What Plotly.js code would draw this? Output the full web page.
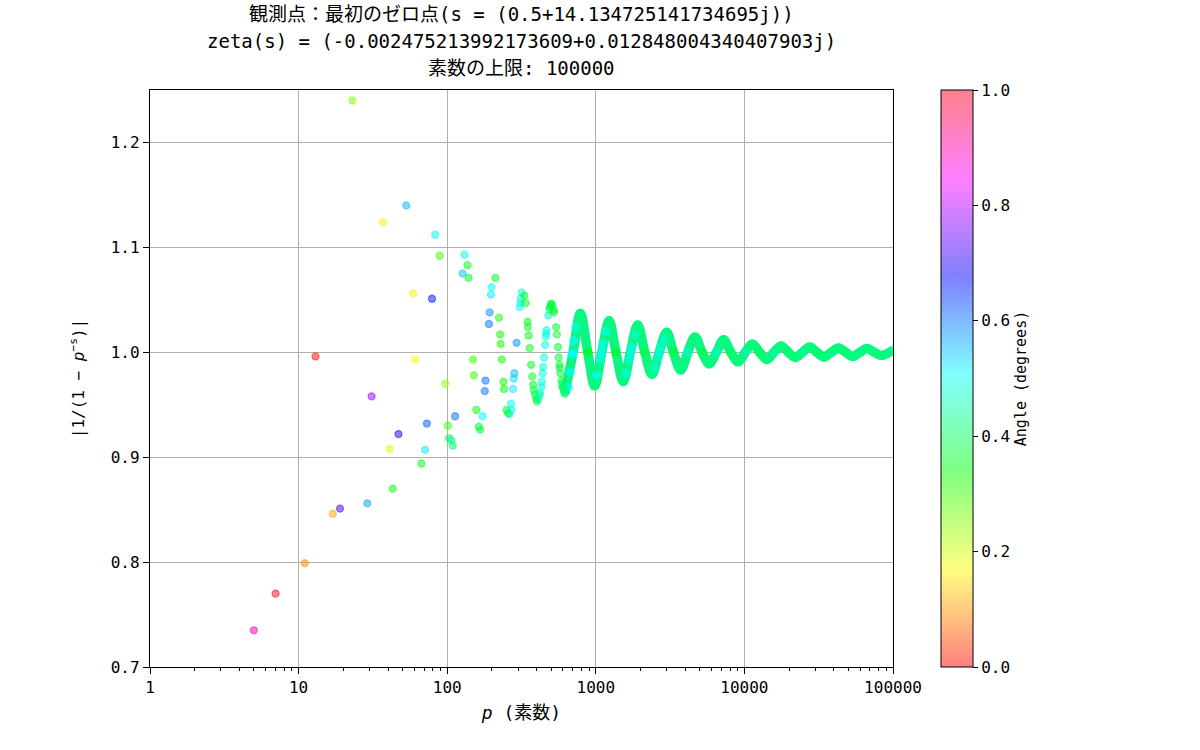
<!DOCTYPE html>
<html>
<head>
<meta charset="utf-8">
<script src="https://cdn.plot.ly/plotly-3.0.1.min.js"></script>
<style>html,body{margin:0;padding:0;background:#fff;}</style>
</head>
<body>
<div id="chart" style="width:1200px;height:750px;"></div>
<script>
// Individually visible primes (x), |1/(1-p^-s)| (y) and colour value (angle)
const primes = [5,7,11,13,17,19,23,29,31,37,41,43,47,53,59,61,67,71,73,79,83,89,97,
  101,103,107,109,113,127,131,137,139,149,151,157,163,167,173,179,181,191,193,197,199,
  211,223,227,229,233,239,241,251,257,263,269,271,277,281,283,293,307,311,313,317,
  331,337,347,349,353,359,367,373,379,383,389,397,401,409,419,421,431,433,439,443,449,
  457,461,463,467,479,487,491,499,503,509,521,523,541,547,557,563,569,571,577,587,593,
  599,601,607,613];
const absVals = [0.735,0.770,0.799,0.996,0.846,0.851,1.240,0.856,0.958,1.124,0.908,0.870,0.922,1.140,1.056,0.993,0.894,0.907,0.932,1.051,1.112,1.092,0.970,
  0.930,0.918,0.916,0.911,0.939,1.075,1.093,1.083,1.071,0.993,0.978,0.945,0.929,0.926,0.939,0.963,0.973,1.027,1.038,1.055,1.062,
  1.071,1.033,1.017,1.008,0.993,0.972,0.965,0.945,0.942,0.941,0.951,0.945,0.965,0.975,0.980,1.009,1.043,1.047,1.051,1.057,
  1.054,1.047,1.029,1.024,1.016,1.004,0.988,0.977,0.969,0.964,0.960,0.956,0.953,0.955,0.959,0.961,0.967,0.972,0.980,0.986,0.995,
  1.007,1.015,1.018,1.021,1.035,1.041,1.043,1.046,1.046,1.044,1.040,1.038,1.024,1.017,1.005,0.995,0.988,0.985,0.980,0.973,0.970,
  0.967,0.966,0.965,0.963];
const angles = [0.90,0.99,0.09,0.01,0.11,0.72,0.25,0.57,0.78,0.16,0.19,0.35,0.68,0.56,0.17,0.17,0.36,0.52,0.62,0.67,0.51,0.30,0.24,
  0.30,0.38,0.45,0.40,0.60,0.55,0.48,0.36,0.36,0.30,0.30,0.34,0.37,0.38,0.50,0.60,0.60,0.60,0.58,0.52,0.50,
  0.36,0.32,0.33,0.33,0.33,0.33,0.34,0.35,0.37,0.42,0.50,0.50,0.52,0.53,0.55,0.58,0.50,0.49,0.50,0.47,
  0.37,0.36,0.35,0.35,0.35,0.36,0.36,0.36,0.36,0.37,0.38,0.38,0.39,0.42,0.46,0.47,0.48,0.48,0.49,0.49,0.49,
  0.48,0.48,0.48,0.48,0.46,0.42,0.40,0.38,0.38,0.37,0.37,0.37,0.37,0.37,0.37,0.37,0.37,0.37,0.38,0.38,0.39,
  0.40,0.40,0.41,0.42];

// Dense band (p > ~600): extrema and crossings
const bandP = [619,701,787,883,983,1097,1229,1367,1531,1709,1913,2137,2389,2671,2999,3331,3727,4159,4651,5197,
  5807,6481,7253,8101,9059,10133,11321,12647,14149,15803,17657,19727,22039,24623,27527,30757,34369,38393,
  42901,47933,53597,59887,66931,74797,83591,99991];
const bandVals = [0.961,0.999,1.037,1.0,0.968,1.0,1.030,1.0,0.972,1.0,1.026,1.0,0.979,1.0,1.019,1.0,0.983,1.0,1.0146,1.0,
  0.989,1.0,1.012,1.0,0.991,1.0,1.008,1.0,0.993,1.0,1.006,1.0,0.995,1.0,1.005,1.0,0.9955,1.0,
  1.004,1.0,0.996,1.0,1.0035,1.0,0.997,1.002];
const bandAngles = [0.42,0.50,0.42,0.36,0.42,0.50,0.42,0.37,0.42,0.49,0.42,0.38,0.42,0.48,0.42,0.38,0.42,0.47,0.42,0.39,
  0.42,0.46,0.42,0.40,0.42,0.45,0.42,0.40,0.42,0.44,0.42,0.41,0.42,0.44,0.42,0.41,0.42,0.43,
  0.42,0.41,0.42,0.43,0.42,0.42,0.42,0.43];

// Rising (cyan) strands of the first band cycles
const riseP = [653,673,691,709,733,1019,1067,1117,1170,1597,1673,1752,1836,2500,2622,2747,2877];
const riseVals = [0.967,0.981,0.998,1.011,1.024,0.978,0.993,1.008,1.020,0.980,0.993,1.005,1.017,0.985,0.995,1.005,1.013];
const riseAngles = [0.50,0.50,0.50,0.50,0.49,0.50,0.50,0.50,0.49,0.49,0.49,0.49,0.48,0.48,0.48,0.48,0.47];

const xTicks = [1,10,100,1000,10000,100000];
const xTickText = ['1','10','100','1000','10000','100000'];
const yTicks = [0.7,0.8,0.9,1.0,1.1,1.2];
const cbTicks = [0,0.2,0.4,0.6,0.8,1.0];
const titleLines = ['観測点：最初のゼロ点(s = (0.5+14.134725141734695j))',
  'zeta(s) = (-0.002475213992173609+0.012848004340407903j)',
  '素数の上限: 100000'];

// matplotlib "hsv" colormap stops
const hsvStops = [[0,255,0,0],[0.15873,255,239,0],[0.174603,247,255,0],[0.333333,8,255,0],[0.349206,0,255,16],
  [0.507937,0,255,255],[0.666667,0,16,255],[0.68254,8,0,255],[0.84127,247,0,255],[0.857143,255,0,239],[1,255,0,24]];
const hsvAlpha = hsvStops.map(s => [s[0], `rgba(${s[1]},${s[2]},${s[3]},0.5)`]);
const hsvSolid = hsvStops.map(s => [s[0], `rgb(${s[1]},${s[2]},${s[3]})`]);

const FONT = '"DejaVu Sans Mono", "Noto Sans CJK JP", monospace';

const traces = [
  {
    x: bandP, y: bandVals, type: 'scatter', mode: 'lines',
    line: {shape: 'spline', smoothing: 1, width: 9.5, color: 'rgb(0,245,125)'},
    opacity: 0.95, hoverinfo: 'skip', showlegend: false
  },
  {
    x: bandP, y: bandVals, type: 'scatter', mode: 'markers',
    marker: {size: 9, color: bandAngles, colorscale: hsvSolid, cmin: 0, cmax: 1, opacity: 0.8,
             line: {width: 0}, showscale: false},
    hoverinfo: 'skip', showlegend: false
  },
  {
    x: riseP, y: riseVals, type: 'scatter', mode: 'markers',
    marker: {size: 9, color: riseAngles, colorscale: hsvSolid, cmin: 0, cmax: 1, opacity: 0.75,
             line: {width: 0}, showscale: false},
    hoverinfo: 'skip', showlegend: false
  },
  {
    x: primes, y: absVals, type: 'scatter', mode: 'markers',
    marker: {
      size: 7, color: angles, colorscale: hsvAlpha, cmin: 0, cmax: 1,
      line: {width: 1.3, color: angles, colorscale: hsvAlpha, cmin: 0, cmax: 1},
      showscale: true,
      colorbar: {
        x: 1.0646, xanchor: 'left', xref: 'paper', xpad: 0,
        y: 0.5, yanchor: 'middle', yref: 'paper', ypad: 0,
        len: 1, lenmode: 'fraction', thickness: 32, thicknessmode: 'pixels',
        outlinewidth: 1, outlinecolor: '#000',
        tickvals: cbTicks, tickformat: '.1f',
        ticks: 'outside', ticklen: 5, tickcolor: '#000',
        tickfont: {family: FONT, size: 16, color: '#000'},
        title: {text: 'Angle (degrees)', side: 'right', font: {family: FONT, size: 15, color: '#000'}}
      }
    },
    showlegend: false
  }
];

const plotTop = 90, plotBottom = 667;
const lineCentersPx = [14, 41, 68];
const annotations = titleLines.map((t, i) => ({
  text: t, xref: 'paper', x: 0.5, xanchor: 'center',
  yref: 'paper', y: (plotBottom - lineCentersPx[i]) / (plotBottom - plotTop), yanchor: 'middle',
  showarrow: false, font: {family: FONT, size: 19, color: '#000'}
}));

const layout = {
  width: 1200, height: 750,
  margin: {l: 150, r: 307, t: 90, b: 83},
  paper_bgcolor: '#fff', plot_bgcolor: '#fff',
  font: {family: FONT, color: '#000'},
  annotations: annotations,
  xaxis: {
    type: 'log', range: [0, 5],
    tickvals: xTicks, ticktext: xTickText,
    showgrid: true, gridcolor: '#b0b0b0', gridwidth: 1,
    showline: true, linecolor: '#000', linewidth: 1.2, mirror: true,
    ticks: 'outside', ticklen: 6, tickcolor: '#000', tickwidth: 1,
    minor: {dtick: 'D1', ticks: 'outside', ticklen: 3, tickcolor: '#000', showgrid: false},
    tickfont: {family: FONT, size: 16, color: '#000'},
    zeroline: false,
    title: {text: '<i>p</i> (素数)', font: {family: FONT, size: 18, color: '#000'}, standoff: 10}
  },
  yaxis: {
    range: [0.7, 1.25],
    tickvals: yTicks, tickformat: '.1f',
    showgrid: true, gridcolor: '#b0b0b0', gridwidth: 1,
    showline: true, linecolor: '#000', linewidth: 1.2, mirror: true,
    ticks: 'outside', ticklen: 6, tickcolor: '#000', tickwidth: 1,
    tickfont: {family: FONT, size: 16, color: '#000'},
    zeroline: false,
    title: {text: '|1/(1 − <i>p</i><sup>−s</sup>)|', font: {family: FONT, size: 16, color: '#000'}, standoff: 22}
  }
};

Plotly.newPlot('chart', traces, layout, {displayModeBar: false, staticPlot: true});
</script>
</body>
</html>
